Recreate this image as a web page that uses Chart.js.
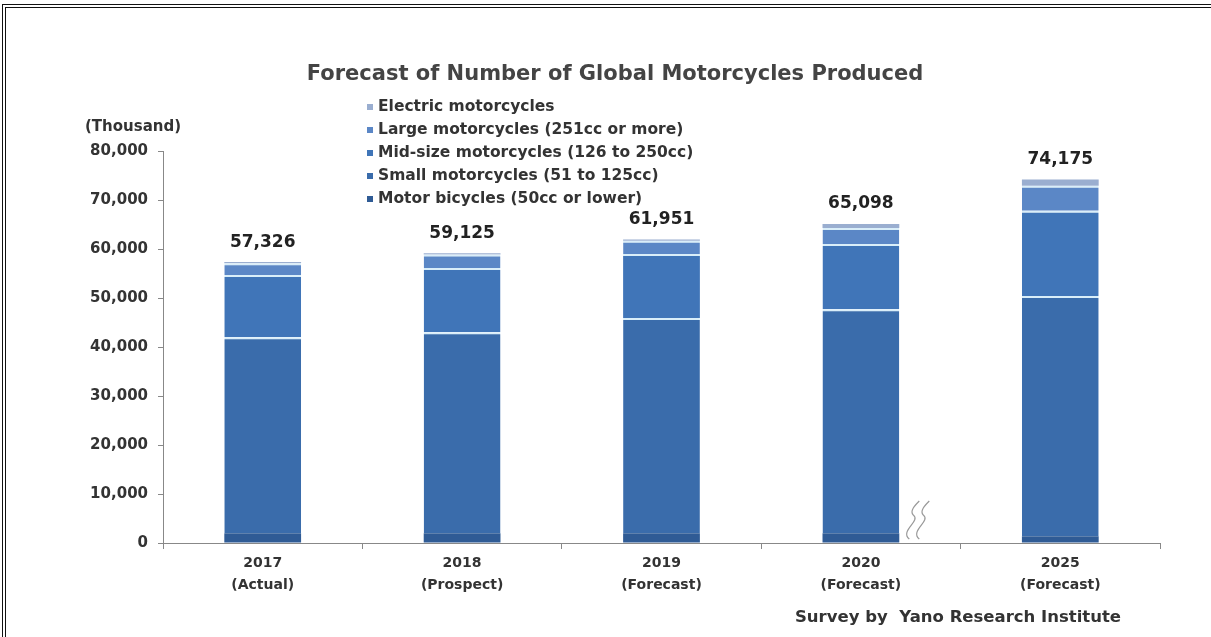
<!DOCTYPE html>
<html>
<head>
  <title>Forecast of Number of Global Motorcycles Produced</title>
  <script src="https://cdn.jsdelivr.net/npm/chart.js@4.4.0/dist/chart.umd.min.js"></script>
  <style>
    html, body { margin: 0; padding: 0; background: #fff; }
    #wrap { position: relative; width: 1211px; height: 637px; overflow: hidden; }
    #frame { position: absolute; left: 2px; top: 4px; right: -10px; bottom: -10px;
             border-top: 4px double #111; border-left: 4px double #111; }
    canvas { position: absolute; left: 0; top: 0; }
  </style>
</head>
<body>
<div id="wrap">
  <canvas id="myChart" width="1211" height="637"></canvas>
  <div id="frame"></div>
</div>
<script>
  // categories and series (thousand units)
  var years = [['2017', '(Actual)'], ['2018', '(Prospect)'], ['2019', '(Forecast)'], ['2020', '(Forecast)'], ['2025', '(Forecast)']];
  var motorBicycles = [2000, 2000, 2000, 2000, 1400];
  var smallMoto = [40000, 41000, 43900, 45700, 49000];
  var midMoto = [12700, 13100, 13100, 13300, 17400];
  var largeMoto = [2400, 2800, 2700, 3300, 5100];
  var electricMoto = [226, 225, 251, 798, 1275];
  var totals = ['57,326', '59,125', '61,951', '65,098', '74,175'];

  var FONT = 'DejaVu Sans';
  var sep = '#d9eef9';

  function seg(label, data, color, top) {
    return {
      label: label,
      data: data,
      backgroundColor: color,
      borderColor: sep,
      borderWidth: {top: top, left: 0, right: 0, bottom: 0},
      borderSkipped: false,
      barPercentage: 0.77,
      categoryPercentage: 0.5
    };
  }

  // title, legend, value labels, break mark, source note
  var extras = {
    id: 'extras',
    afterDraw: function(chart) {
      var c = chart.ctx;
      c.save();
      c.fillStyle = '#444';
      c.font = 'bold 21px "' + FONT + '"';
      c.textAlign = 'center';
      c.textBaseline = 'middle';
      c.fillText('Forecast of Number of Global Motorcycles Produced', 615, 75);

      c.font = 'bold 15px "' + FONT + '"';
      c.fillStyle = '#333';
      c.fillText('(Thousand)', 133, 127);

      // legend (reverse order, vertical)
      var ds = chart.data.datasets;
      c.textAlign = 'left';
      c.font = 'bold 15.5px "' + FONT + '"';
      for (var i = 0; i < ds.length; i++) {
        var d = ds[ds.length - 1 - i];
        var y = 107 + i * 23;
        c.fillStyle = d.backgroundColor;
        c.fillRect(367, y - 3, 6, 6);
        c.fillStyle = '#333';
        c.fillText(d.label, 378, y);
      }

      // totals above the bars
      var top = chart.getDatasetMeta(ds.length - 1).data;
      c.textAlign = 'center';
      c.font = 'bold 17px "' + FONT + '"';
      c.fillStyle = '#222';
      top.forEach(function(bar, k) {
        c.fillText(totals[k], bar.x, bar.y - 20);
      });

      // axis break mark next to 2020
      var b = top[3];
      var bx = b.x + b.width / 2 + 10;
      var base = chart.scales.y.getPixelForValue(0);
      c.strokeStyle = '#999';
      c.lineWidth = 1.2;
      [0, 10].forEach(function(off) {
        var x0 = bx + off;
        c.beginPath();
        c.moveTo(x0, base - 4);
        c.bezierCurveTo(x0 - 10, base - 12, x0 + 12, base - 22, x0 + 4, base - 28);
        c.bezierCurveTo(x0 + 0, base - 32, x0 + 6, base - 38, x0 + 10, base - 42);
        c.stroke();
      });

      c.font = 'bold 16.5px "' + FONT + '"';
      c.fillStyle = '#333';
      c.fillText('Survey by  Yano Research Institute', 958, 618);
      c.restore();
    }
  };

  var ctx = document.getElementById('myChart').getContext('2d');
  var chart = new Chart(ctx, {
    type: 'bar',
    data: {
      labels: years,
      datasets: [
        seg('Motor bicycles (50cc or lower)', motorBicycles, '#2f5b95', 0),
        seg('Small motorcycles (51 to 125cc)', smallMoto, '#3a6cab', 2),
        seg('Mid-size motorcycles (126 to 250cc)', midMoto, '#4075b8', 2),
        seg('Large motorcycles (251cc or more)', largeMoto, '#5b87c6', 2),
        seg('Electric motorcycles', electricMoto, '#9aaed0', 0)
      ]
    },
    options: {
      responsive: false,
      animation: false,
      layout: {padding: {left: 0, right: 51, top: 151, bottom: 0}},
      plugins: {legend: {display: false}, tooltip: {enabled: false}},
      scales: {
        x: {
          stacked: true,
          grid: {drawOnChartArea: false, tickLength: 6, color: '#888', offset: true},
          border: {color: '#888'},
          ticks: {color: '#333', font: {family: FONT, size: 14, weight: 'bold', lineHeight: 1.55}, padding: 4},
          afterFit: function(s) { s.height = 94; }
        },
        y: {
          stacked: true,
          min: 0,
          max: 80000,
          grid: {drawOnChartArea: false, tickLength: 5, color: '#888'},
          border: {color: '#888'},
          ticks: {
            stepSize: 10000,
            color: '#333',
            padding: 10,
            font: {family: FONT, size: 15, weight: 'bold'},
            callback: function(v) { return v.toLocaleString('en-US'); }
          },
          afterFit: function(s) { s.width = 163; }
        }
      }
    },
    plugins: [extras]
  });
</script>
</body>
</html>
